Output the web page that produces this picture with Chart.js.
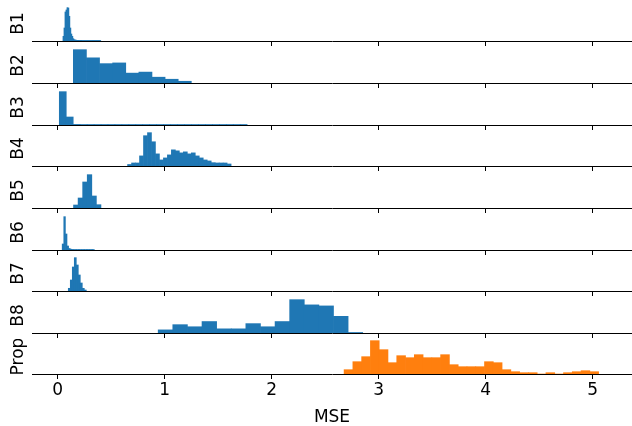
<!DOCTYPE html>
<html>
<head>
<meta charset="utf-8">
<script src="https://cdn.jsdelivr.net/npm/chart.js@4/dist/chart.umd.min.js"></script>
<style>
  html, body { margin: 0; padding: 0; background: #fff; }
  #wrap { position: relative; width: 632px; height: 426px; overflow: hidden; }
  #wrap canvas { position: absolute; left: 0; }
</style>
</head>
<body>
<div id="wrap"></div>
<script>
/* ========= DATA ========= */
const rowLabels = ["B1", "B2", "B3", "B4", "B5", "B6", "B7", "B8", "Prop"];
const tickValues = [0, 1, 2, 3, 4, 5];
const xTitle = "MSE";

// histogram bins: left edge of first bin and bin width, per row
const binStarts = [0.050, 0.147, 0.016, 0.654, 0.149, 0.043, 0.100, 0.940, 2.677];
const binWidths = [0.0093, 0.1225, 0.065, 0.0372, 0.0427, 0.015, 0.0187, 0.1365, 0.082];

// bin heights (relative counts)
const b1Counts = [4.7, 13, 29, 31, 33.3, 33, 24.7, 13, 7, 4.7, 2.3, 1.3, 1, 0.8, 0.7, 0.7, 0.6, 0.6, 0.6,
  0.5, 0.5, 0.5, 0.5, 0.5, 0.5, 0.5, 0.5, 0.5, 0.5, 0.5, 0.5, 0.5, 0.5, 0.5, 0.5, 0.5, 0.5, 0.5];
const b2Counts = [32.7, 24.7, 19, 19.7, 9.7, 10.7, 5.7, 3.7, 1.7];
const b3Counts = [33.3, 8, 0.6, 0.5, 0.5, 0.5, 0.5, 0.5, 0.5, 0.5, 0.5, 0.5, 0.5, 0.5, 0.5, 0.5, 0.5,
  0.5, 0.5, 0.5, 0.5, 0.5, 0.5, 0.5, 0.5, 0.5, 0.5];
const b4Counts = [1.5, 3, 3, 10, 30, 33, 24, 12, 6, 8, 11, 16, 15, 13, 14, 12, 13, 10, 8, 6, 5, 3.3, 3, 3, 3, 2];
const b5Counts = [3, 10, 26, 33.3, 12, 3.3];
const b6Counts = [6, 33.3, 16, 4, 1.5, 0.8, 0.6, 0.5, 0.5, 0.5, 0.5, 0.5, 0.5, 0.5, 0.5, 0.5, 0.5, 0.5, 0.5, 0.5];
const b7Counts = [2.7, 11, 24, 33.3, 26, 16, 8, 2.7, 1];
const b8Counts = [3, 8, 6, 11, 4, 4, 9, 6, 11, 32, 27, 26, 16, 0.5];
const propCounts = [4.3, 12.3, 17.3, 33.3, 24.3, 11.3, 18.3, 16.3, 19.3, 16.3, 16.3, 19.3, 9.3, 7.3, 7.3,
  7.3, 12.3, 11.3, 4.3, 2.3, 1.3, 1.3, 0, 1.3, 0, 1.3, 2.3, 3.3, 2.3];

const allCounts = [b1Counts, b2Counts, b3Counts, b4Counts, b5Counts, b6Counts, b7Counts, b8Counts, propCounts];

/* ========= LAYOUT ========= */
const X_MIN = -0.239, X_MAX = 5.367;
const W = 632;
const spineY = [41, 83, 125, 166, 208, 250, 291, 333, 374];
const plotH = 35;
const tickLen = 5;
// chart.js caps a bottom axis at half the free height, so the last axis is kept to plotH tall
// and the MSE title hangs below it (negative padding) into the layout padding
const lastPadBottom = 20;
const FONT = "'DejaVu Sans', sans-serif";
const BLUE = "#1f77b4", ORANGE = "#ff7f0e";

const wrap = document.getElementById("wrap");

rowLabels.forEach((label, i) => {
  const isLast = i === rowLabels.length - 1;
  const counts = allCounts[i];
  const top = spineY[i] - plotH;
  const h = isLast ? plotH * 2 + lastPadBottom : plotH + tickLen;

  const canvas = document.createElement("canvas");
  canvas.width = W;
  canvas.height = h;
  canvas.style.top = top + "px";
  canvas.style.width = W + "px";
  canvas.style.height = h + "px";
  wrap.appendChild(canvas);

  // bar centres from bin edges
  const pts = counts.map((c, k) => ({ x: binStarts[i] + binWidths[i] * (k + 0.5), y: c }));

  new Chart(canvas, {
    type: "bar",
    data: {
      datasets: [{
        data: pts,
        backgroundColor: isLast ? ORANGE : BLUE,
        borderWidth: 0,
        barPercentage: 1,
        categoryPercentage: 1
      }]
    },
    options: {
      responsive: false,
      animation: false,
      layout: { padding: { left: 10, right: 0, top: 0, bottom: isLast ? lastPadBottom : 0 } },
      plugins: { legend: { display: false }, tooltip: { enabled: false } },
      scales: {
        x: {
          type: "linear",
          min: X_MIN,
          max: X_MAX,
          offset: false,
          afterBuildTicks: s => { s.ticks = tickValues.map(v => ({ value: v })); },
          grid: { display: true, offset: false, drawOnChartArea: false, drawTicks: true,
                  tickLength: tickLen, color: "#000", lineWidth: 1 },
          border: { display: true, color: "#000", width: 1 },
          ticks: { display: isLast, padding: 1, color: "#000", maxRotation: 0,
                   font: { family: FONT, size: 17 } },
          title: { display: isLast, text: xTitle, color: "#000",
                   font: { family: FONT, size: 17, lineHeight: 1 },
                   padding: { top: 8.6, bottom: -17 } }
        },
        y: {
          min: 0,
          max: Math.max(...counts) * 1.05,
          grid: { display: false, drawTicks: false },
          border: { display: false },
          ticks: { display: false },
          title: { display: true, text: label, color: "#000",
                   font: { family: FONT, size: 17, lineHeight: 1 },
                   padding: { top: 0, bottom: 5 } }
        }
      }
    }
  });
});
</script>
</body>
</html>
